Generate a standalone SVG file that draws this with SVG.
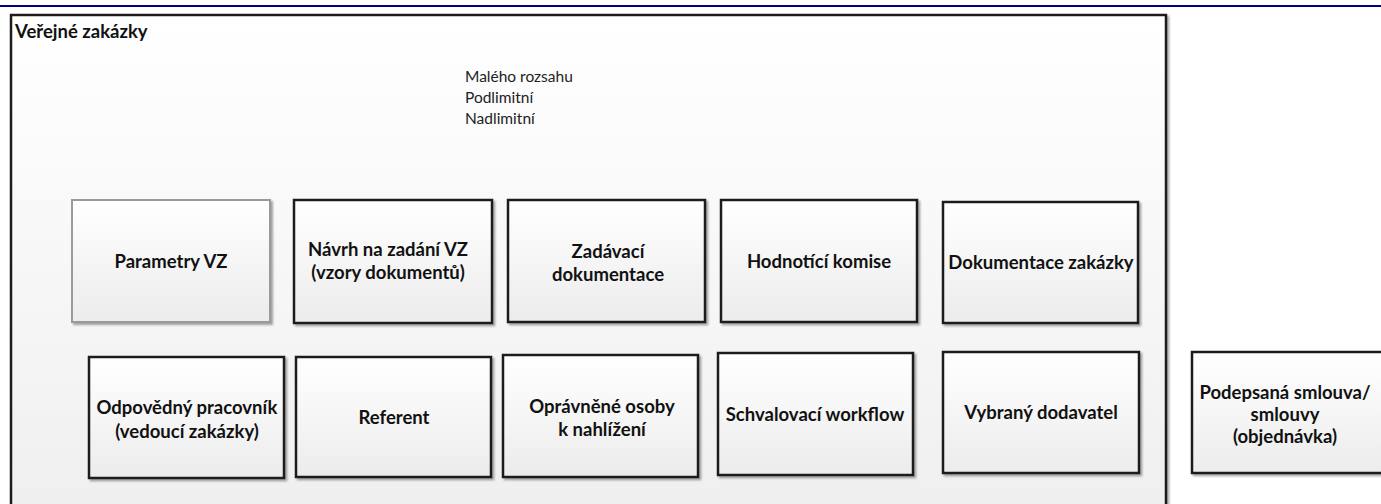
<svg xmlns="http://www.w3.org/2000/svg" width="1381" height="504" viewBox="0 0 1381 504">
  <defs>
    <linearGradient id="gOuter" x1="0" y1="0" x2="0" y2="1">
      <stop offset="0" stop-color="#ffffff"/>
      <stop offset="1" stop-color="#efefef"/>
    </linearGradient>
    <linearGradient id="gBox" x1="0" y1="0" x2="0" y2="1">
      <stop offset="0" stop-color="#ffffff"/>
      <stop offset="1" stop-color="#ececec"/>
    </linearGradient>
    <filter id="shadow" x="-5%" y="-5%" width="112%" height="115%">
      <feGaussianBlur in="SourceAlpha" stdDeviation="1.2"/>
      <feOffset dx="1.5" dy="1.5" result="b"/>
      <feComponentTransfer><feFuncA type="linear" slope="0.35"/></feComponentTransfer>
      <feMerge><feMergeNode/><feMergeNode in="SourceGraphic"/></feMerge>
    </filter>
  </defs>
  <style>
    .box { fill: url(#gBox); stroke: #1c1c1c; stroke-width: 2.5; filter: url(#shadow); }
    .box.light { stroke: #9a9a9a; stroke-width: 2; }
    .outer { fill: url(#gOuter); stroke: #1c1c1c; stroke-width: 2.5; filter: url(#shadow); }
    .lbl { font-family: Lato, "Open Sans", "Liberation Sans", sans-serif; font-weight: bold; font-size: 18.5px; fill: #111; text-anchor: middle; }
    .title { font-family: Lato, "Open Sans", "Liberation Sans", sans-serif; font-weight: bold; font-size: 18.5px; fill: #111; }
    .small { font-family: Lato, "Open Sans", "Liberation Sans", sans-serif; font-size: 15.5px; fill: #222; }
  </style>
  <rect x="0" y="0" width="1381" height="504" fill="#ffffff"/>
  <line x1="0" y1="6" x2="1381" y2="6" stroke="#000080" stroke-width="2.2"/>

  <g id="verejne-zakazky">
    <rect class="outer" x="11" y="15" width="1155" height="500"/>
    <text class="title" x="15" y="38">Veřejné zakázky</text>
    <text class="small" x="465" y="82">Malého rozsahu</text>
    <text class="small" x="465" y="103">Podlimitní</text>
    <text class="small" x="465" y="124">Nadlimitní</text>
  </g>

  <g id="parametry-vz">
    <rect class="box light" x="72" y="200" width="198" height="122"/>
    <text class="lbl" x="171" y="268">Parametry VZ</text>
  </g>
  <g id="navrh-na-zadani">
    <rect class="box" x="294" y="200" width="198" height="123"/>
    <text class="lbl" x="388" y="256">Návrh na zadání VZ</text>
    <text class="lbl" x="388" y="279">(vzory dokumentů)</text>
  </g>
  <g id="zadavaci-dokumentace">
    <rect class="box" x="508" y="200" width="197" height="122"/>
    <text class="lbl" x="608" y="258">Zadávací</text>
    <text class="lbl" x="608" y="281">dokumentace</text>
  </g>
  <g id="hodnotici-komise">
    <rect class="box" x="721" y="200" width="196" height="122"/>
    <text class="lbl" x="819" y="268">Hodnotící komise</text>
  </g>
  <g id="dokumentace-zakazky">
    <rect class="box" x="943" y="202" width="195" height="121"/>
    <text class="lbl" x="1041" y="269">Dokumentace zakázky</text>
  </g>

  <g id="odpovedny-pracovnik">
    <rect class="box" x="89" y="357" width="195" height="121"/>
    <text class="lbl" x="187" y="414">Odpovědný pracovník</text>
    <text class="lbl" x="187" y="438">(vedoucí zakázky)</text>
  </g>
  <g id="referent">
    <rect class="box" x="296" y="357" width="195" height="120"/>
    <text class="lbl" x="394" y="424">Referent</text>
  </g>
  <g id="opravnene-osoby">
    <rect class="box" x="503" y="355" width="195" height="122"/>
    <text class="lbl" x="602" y="413">Oprávněné osoby</text>
    <text class="lbl" x="602" y="436">k nahlížení</text>
  </g>
  <g id="schvalovaci-workflow">
    <rect class="box" x="718" y="353" width="195" height="122"/>
    <text class="lbl" x="815" y="421">Schvalovací workflow</text>
  </g>
  <g id="vybrany-dodavatel">
    <rect class="box" x="943" y="352" width="196" height="121"/>
    <text class="lbl" x="1041" y="419">Vybraný dodavatel</text>
  </g>
  <g id="podepsana-smlouva">
    <rect class="box" x="1192" y="352" width="196" height="121"/>
    <text class="lbl" x="1285" y="399">Podepsaná smlouva/</text>
    <text class="lbl" x="1285" y="421">smlouvy</text>
    <text class="lbl" x="1285" y="443">(objednávka)</text>
  </g>

  <g id="connectors"></g>
</svg>
